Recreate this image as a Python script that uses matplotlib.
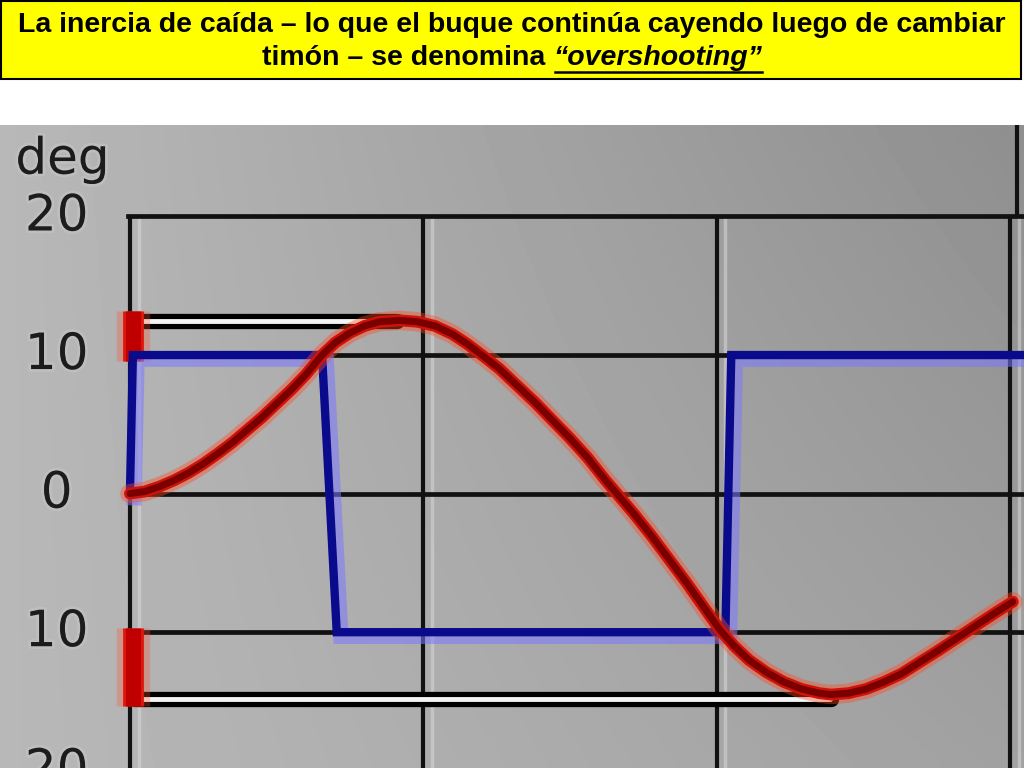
import numpy as np
import matplotlib
matplotlib.use("Agg")
import matplotlib.pyplot as plt
import matplotlib.patheffects as pe
from matplotlib.patches import Rectangle
from matplotlib.lines import Line2D

# rudder angle (blue) and heading deviation (red), time in arbitrary units
rudder_t = [0, 0.1, 6.55, 7.05, 20.3, 20.5, 30.6]
rudder = [0, 10, 10, -10, -10, 10, 10]

heading_t = [0, 0.5, 1, 1.5, 2, 2.5, 3, 3.5, 4, 4.5, 5, 5.5, 6, 6.55, 7.0, 7.5,
             8.0, 8.5, 9.2, 9.8, 10.4, 11.0, 11.5, 12.0, 12.6, 13.2, 13.8, 14.4,
             15.0, 15.6, 16.2, 16.6, 17.2, 17.8, 18.4, 19.0, 19.6, 20.1, 20.6,
             21.1, 21.7, 22.3, 22.9, 23.5, 23.9, 24.5, 25.1, 25.7, 26.3, 26.9,
             27.5, 28.0, 28.5, 29.0, 29.5, 30.1]
heading = [0, 0.15, 0.5, 0.95, 1.5, 2.15, 2.9, 3.7, 4.6, 5.5, 6.5, 7.5, 8.6, 10,
           10.9, 11.6, 12.1, 12.4, 12.5, 12.4, 12.1, 11.5, 10.8, 10.0, 9.0, 7.8,
           6.6, 5.3, 4.0, 2.6, 1.0, 0, -1.5, -3.1, -4.8, -6.5, -8.3, -9.8, -11.0,
           -12.0, -12.9, -13.6, -14.1, -14.4, -14.5, -14.4, -14.1, -13.6, -13.0,
           -12.2, -11.4, -10.7, -10.0, -9.3, -8.6, -7.8]

# overshoot marks: (level, end time)
overshoot_level = [12.45, -14.8]
overshoot_end = [9.1, 23.9]

y_ticks = [20, 10, 0, -10, -20]
x_grid = [0, 10, 20, 30]

title1 = "La inercia de caída – lo que el buque continúa cayendo luego de cambiar"
title2a = "timón – se denomina "
title2b = "“overshooting”"

fig = plt.figure(figsize=(10.24, 7.68), dpi=100)
fig.patch.set_facecolor("white")

# yellow title box
fig.patches.append(Rectangle((0.001, 1 - 79 / 768), 1020 / 1024, 78 / 768,
                             transform=fig.transFigure, facecolor="#ffff00",
                             edgecolor="black", linewidth=1.5))
tfont = dict(family=["Liberation Sans", "DejaVu Sans"], weight="bold", fontsize=20.5)
fig.text(0.5, 1 - 25 / 768, title1, ha="center", va="center", **tfont)

# second line made of two pieces, the second one italic and underlined
y2 = 1 - 58 / 768
ta = fig.text(0, y2, title2a, ha="left", va="center", **tfont)
tb = fig.text(0, y2, title2b, ha="left", va="center", style="italic", **tfont)
r = fig.canvas.get_renderer()
wa = ta.get_window_extent(r).width
wb = tb.get_window_extent(r).width
x0 = (1024 - wa - wb) / 2
ta.set_x(x0 / 1024)
tb.set_x((x0 + wa) / 1024)
uy = 1 - 72 / 768
fig.lines.append(Line2D([(x0 + wa + 2) / 1024, (x0 + wa + wb) / 1024], [uy, uy],
                        transform=fig.transFigure, color="black", lw=1.8))

# photographed chart area
ax = fig.add_axes([0, 0, 1, 643 / 768])
ax.set_xlim(-4.43, 30.48)
ax.set_ylim(-19.8, 26.6)
ax.axis("off")

gx = np.linspace(0, 1, 60)
gy = np.linspace(0, 1, 60)
GX, GY = np.meshgrid(gx, gy)
shade = 0.72 - 0.09 * GX - 0.07 * GY * GX
ax.imshow(shade, cmap="gray", vmin=0, vmax=1, extent=[-4.43, 30.48, -19.8, 26.6],
          origin="lower", aspect="auto", zorder=0, interpolation="bicubic")

# ghost lines next to verticals (video smear)
for t in x_grid:
    ax.plot([t + 0.3, t + 0.3], [20, -19.8], color="#d8d8d8", lw=2.5, alpha=0.55, zorder=1)
# grid
for t in x_grid:
    ax.plot([t, t], [20, -19.8], color="#111111", lw=3.0, zorder=2, solid_capstyle="butt")
ax.plot([30.25, 30.25], [26.6, 20], color="#111111", lw=3.0, zorder=2)
for v in y_ticks:
    ax.plot([-0.05, 30.48], [v, v], color="#111111", lw=3.4, zorder=2)

# labels
lab_eff = [pe.withStroke(linewidth=4, foreground="#c4c4c4", alpha=0.6)]
for v in y_ticks:
    ax.text(-2.5, v, str(abs(v)), ha="center", va="center", fontsize=36,
            color="#1c1c1c", family="DejaVu Sans", zorder=3, path_effects=lab_eff)
ax.text(-2.3, 24.1, "deg", ha="center", va="center", fontsize=36,
        color="#1c1c1c", family="DejaVu Sans", zorder=3, path_effects=lab_eff)

# overshoot indicator bars (black outline, white core)
for lev, end in zip(overshoot_level, overshoot_end):
    ax.plot([0.15, end], [lev, lev], color="black", lw=11, solid_capstyle="round", zorder=4)
    ax.plot([0.15, end - 0.05], [lev, lev], color="#f4f4f4", lw=3.5,
            solid_capstyle="round", zorder=5)

# red overshoot marks on the time origin
red_glow = [pe.Stroke(linewidth=24, foreground="#ff5030", alpha=0.3),
            pe.Stroke(linewidth=15, foreground="#e01810"), pe.Normal()]
ax.plot([0.1, 0.1], [9.6, 13.2], color="#c00000", lw=11, zorder=6,
        solid_capstyle="butt", path_effects=red_glow)
ax.plot([0.1, 0.1], [-9.7, -15.3], color="#c00000", lw=11, zorder=6,
        solid_capstyle="butt", path_effects=red_glow)

# rudder (blue)
ax.plot(rudder_t, rudder, color="#0a0a8c", lw=6, zorder=7, solid_joinstyle="miter",
        path_effects=[pe.Stroke(linewidth=11, foreground="#7b78ff", alpha=0.55,
                                offset=(3, -3)),
                      pe.Normal()])

# heading (red)
ax.plot(heading_t, heading, color="#7a0000", lw=5, zorder=8, solid_capstyle="round",
        solid_joinstyle="round",
        path_effects=[pe.Stroke(linewidth=14, foreground="#ff4a22", alpha=0.4),
                      pe.Stroke(linewidth=8.5, foreground="#d01208"),
                      pe.Normal()])

fig.savefig("out.png", dpi=100)
